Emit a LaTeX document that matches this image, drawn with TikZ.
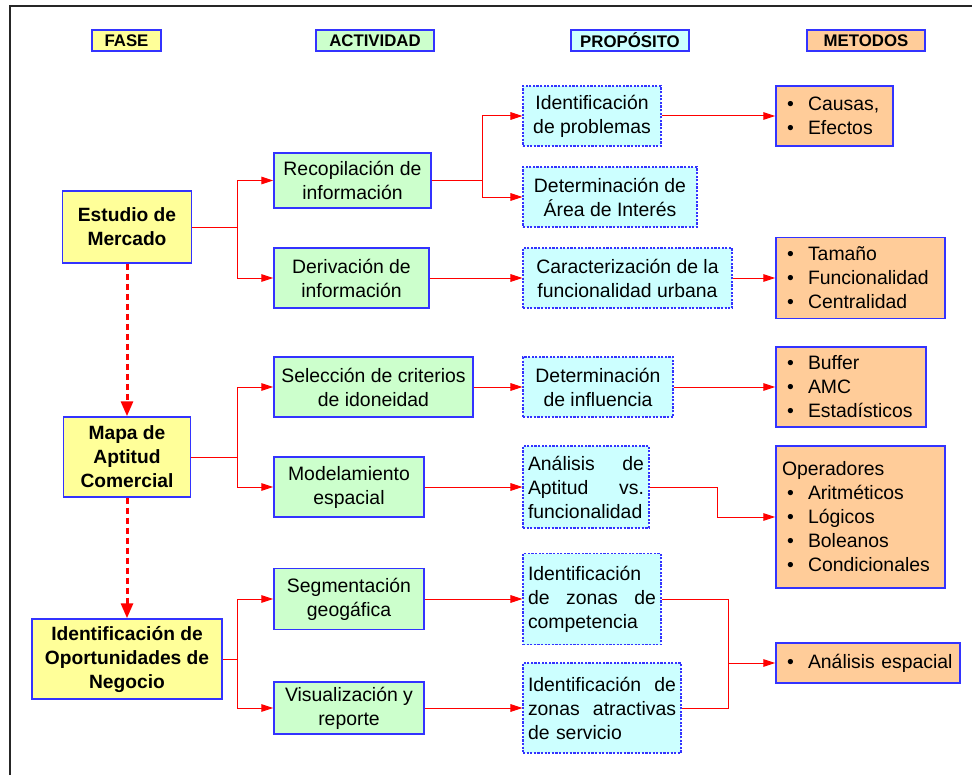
\documentclass[tikz,border=0pt]{standalone}
\usepackage{fontspec}
\setmainfont{Liberation Sans}
\usetikzlibrary{arrows.meta}

\definecolor{fasefill}{HTML}{FFFF99}
\definecolor{actfill}{HTML}{CCFFCC}
\definecolor{propfill}{HTML}{CCFFFF}
\definecolor{metfill}{HTML}{FFCC99}
\definecolor{boxblue}{HTML}{3333FF}

\newcommand{\itm}{\hspace*{2.5pt}\makebox[10.5pt][l]{\textbullet}}

\begin{document}
\begin{tikzpicture}[
    x=0.5pt, y=-0.5pt,
    box/.style={draw=boxblue, line width=0.75pt, inner sep=2.5pt, font=\fontsize{9.7}{12}\selectfont, align=center},
    head/.style={box, minimum width=59pt, minimum height=10.5pt, inner sep=0pt, font=\fontsize{8.4}{10}\selectfont\bfseries},
    fase/.style={box, fill=fasefill, font=\fontsize{9.6}{12}\selectfont\bfseries},
    act/.style={box, fill=actfill},
    prop/.style={box, fill=propfill, line width=0.55pt, dash pattern=on 1.1pt off 0.7pt},
    met/.style={box, fill=metfill, align=left, inner xsep=3pt},
    arr/.style={-{Triangle[length=6pt, width=3.8pt]}, red, line width=0.5pt},
    link/.style={red, line width=0.5pt},
    faselink/.style={-{Triangle[length=7.5pt, width=6pt]}, red, line width=1.5pt, dash pattern=on 3pt off 2pt},
]
\useasboundingbox (0,0) rectangle (972,775);
\draw[line width=1pt, black!85] (10,775) -- (10,6) -- (972,6);

\node[head, fill=fasefill, minimum width=34.5pt] (hfase) at (126.5,40.5) {FASE};
\node[head, fill=actfill] (hact) at (375,40.5) {ACTIVIDAD};
\node[head, fill=propfill] (hprop) at (630,40.5) {PROPÓSITO};
\node[head, fill=metfill] (hmet) at (866,40.5) {METODOS};

\node[fase, minimum width=64.5pt, minimum height=36pt] (estudio) at (127,227) {Estudio de\\Mercado};
\node[fase, minimum width=63.5pt, minimum height=40pt] (mapa) at (127,457) {Mapa de\\Aptitud\\Comercial};
\node[fase, minimum width=95pt, minimum height=40pt] (oportun) at (127,659) {Identificación de\\Oportunidades de\\Negocio};

\node[act, minimum width=78.5pt, minimum height=27.5pt] (recop) at (352.5,180.5) {Recopilación de\\información};
\node[act, minimum width=77.5pt, minimum height=30pt] (deriv) at (351.5,278) {Derivación de\\información};
\node[act, minimum width=99.5pt, minimum height=30pt] (selec) at (373.5,387) {Selección de criterios\\de idoneidad};
\node[act, minimum width=75pt, minimum height=30pt] (model) at (349,487) {Modelamiento\\espacial};
\node[act, minimum width=75pt, minimum height=30.5pt] (segm) at (349,599) {Segmentación\\geogáfica};
\node[act, minimum width=75pt, minimum height=25pt] (visual) at (349,708) {Visualización y\\reporte};

\node[prop, minimum width=69pt, minimum height=30pt] (problem) at (592,116) {Identificación\\de problemas};
\node[prop, minimum width=87pt, minimum height=30pt] (area) at (610,197) {Determinación de\\Área de Interés};
\node[prop, minimum width=104.5pt, minimum height=30pt] (caract) at (627.5,278) {Caracterización de la\\funcionalidad urbana};
\node[prop, minimum width=75pt, minimum height=30pt] (influ) at (598,387) {Determinación\\de influencia};
\node[prop, text width=58pt, minimum height=41pt, align=left] (aptit) at (586,487) {Análisis\hfill de\\Aptitud\hfill vs.\\funcionalidad};
\node[prop, text width=64pt, minimum height=45.5pt, align=left] (compet) at (592,599) {Identificación\\de\hfill zonas\hfill de\\competencia};
\node[prop, text width=74pt, minimum height=45pt, align=left] (atract) at (602,708) {Identificación\hfill de\\zonas\hfill atractivas\\de servicio};

\node[met, text width=52.5pt, minimum height=30pt] (causas) at (834.5,116) {\itm Causas,\\\itm Efectos};
\node[met, text width=78.5pt, minimum height=40.5pt] (tamano) at (860.5,278) {\itm Tamaño\\\itm Funcionalidad\\\itm Centralidad};
\node[met, text width=69pt, minimum height=40pt] (buffer) at (851,387) {\itm Buffer\\\itm AMC\\\itm Estadísticos};
\node[met, text width=78.5pt, minimum height=71pt] (operad) at (860.5,517) {Operadores\\\itm Aritméticos\\\itm Lógicos\\\itm Boleanos\\\itm Condicionales};
\node[met, text width=86pt, minimum height=20pt] (espacial) at (868,663) {\itm Análisis espacial};

\draw[faselink] (estudio) -- (mapa);
\draw[faselink] (mapa) -- (oportun);

\coordinate (sEst) at (237,227);
\draw[link] (estudio.east) -- (sEst);
\draw[arr] (sEst) |- (recop.west);
\draw[arr] (sEst) |- (deriv.west);

\coordinate (sRec) at (482,180.5);
\draw[link] (recop.east) -- (sRec);
\draw[arr] (sRec) |- (problem.west);
\draw[arr] (sRec) |- (area.west);
\draw[arr] (problem) -- (causas);
\draw[arr] (deriv) -- (caract);
\draw[arr] (caract) -- (tamano);

\coordinate (sMapa) at (237,457);
\draw[link] (mapa.east) -- (sMapa);
\draw[arr] (sMapa) |- (selec.west);
\draw[arr] (sMapa) |- (model.west);
\draw[arr] (selec) -- (influ);
\draw[arr] (influ) -- (buffer);
\draw[arr] (model) -- (aptit);
\coordinate (kApt) at (717,500);
\draw[arr] (aptit.east) -| (kApt) |- (operad.west);

\coordinate (sOpo) at (237,659);
\draw[link] (oportun.east) -- (sOpo);
\draw[arr] (sOpo) |- (segm.west);
\draw[arr] (sOpo) |- (visual.west);
\draw[arr] (segm) -- (compet);
\draw[arr] (visual) -- (atract);
\coordinate (jEsp) at (728,663);
\draw[link] (compet.east) -| (jEsp);
\draw[link] (atract.east) -| (jEsp);
\draw[arr] (jEsp) -- (espacial.west);

\end{tikzpicture}
\end{document}
